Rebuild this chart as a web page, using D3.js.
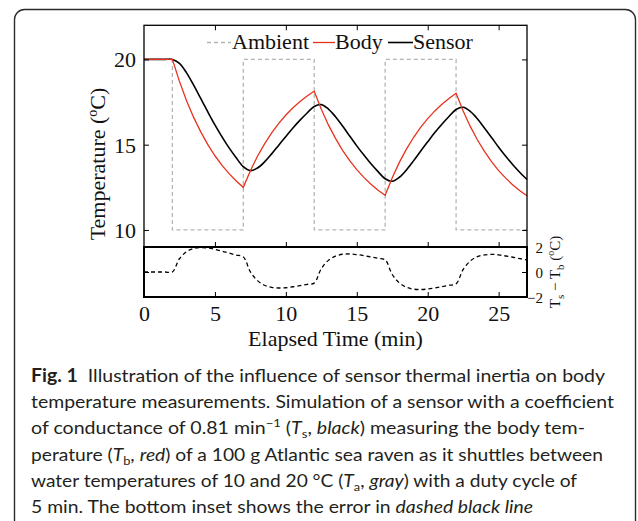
<!DOCTYPE html>
<html>
<head>
<meta charset="utf-8">
<script src="https://cdn.jsdelivr.net/npm/d3@7"></script>
<style>
  html, body { margin: 0; padding: 0; background: #fff; }
  svg { display: block; }
  .serif { font-family: "Liberation Serif", "Times New Roman", serif; fill: #111; }
  .cap { font-family: Lato, "Open Sans", sans-serif; fill: #231f20; white-space: pre; }
</style>
</head>
<body>
<svg id="chart" width="638" height="521"></svg>
<script>
// elapsed time (min), one reading every half minute
const time = d3.range(0, 27.001, 0.5);

// ambient water temperature: switches every 5 min after the start
const ambientTimes = [0, 2, 7, 12, 17, 22, 27];
const ambientTemps = [20, 10, 20, 10, 20, 10, 10];

// body temperature (red)
const body = [20, 20, 20, 20, 20,
  18.71, 17.58, 16.60, 15.75, 15.00, 14.35, 13.79, 13.30, 12.87, 12.50,
  13.47, 14.32, 15.05, 15.69, 16.25, 16.74, 17.16, 17.53, 17.85, 18.13,
  17.08, 16.16, 15.37, 14.67, 14.07, 13.54, 13.08, 12.68, 12.33, 12.03,
  13.06, 13.96, 14.74, 15.42, 16.02, 16.53, 16.98, 17.37, 17.71, 18.01,
  16.98, 16.07, 15.29, 14.61, 14.01, 13.48, 13.04, 12.64, 12.30, 12.00];

// sensor temperature (black)
const sensor = [20, 20, 20, 20, 20,
  19.77, 19.21, 18.49, 17.71, 16.92, 16.16, 15.46, 14.81, 14.23, 13.71,
  13.48, 13.63, 13.99, 14.46, 14.97, 15.48, 15.98, 16.44, 16.86, 17.24,
  17.35, 17.09, 16.64, 16.09, 15.51, 14.93, 14.39, 13.88, 13.42, 13.00,
  12.86, 13.09, 13.52, 14.05, 14.62, 15.17, 15.71, 16.20, 16.65, 17.06,
  17.19, 16.95, 16.52, 15.98, 15.42, 14.85, 14.32, 13.82, 13.37, 12.96];

// sensor minus body (inset, dashed)
const error = [0, 0, 0, 0, 0,
  1.06, 1.63, 1.89, 1.96, 1.92, 1.81, 1.67, 1.51, 1.36, 1.21,
  0.01, -0.69, -1.06, -1.23, -1.28, -1.26, -1.18, -1.09, -0.99, -0.89,
  0.27, 0.93, 1.27, 1.42, 1.44, 1.39, 1.31, 1.20, 1.09, 0.97,
  -0.20, -0.87, -1.22, -1.37, -1.40, -1.36, -1.27, -1.17, -1.06, -0.95,
  0.21, 0.88, 1.23, 1.37, 1.41, 1.37, 1.28, 1.18, 1.07, 0.96];

const xTicks = [0, 5, 10, 15, 20, 25];
const tempTicks = [10, 15, 20];
const errTicks = [-2, 0, 2];

const svg = d3.select("#chart");

// page frame
svg.append("rect")
  .attr("x", 14.5).attr("y", 9.5)
  .attr("width", 621).attr("height", 600)
  .attr("rx", 10)
  .attr("fill", "none")
  .attr("stroke", "#2b2b2b")
  .attr("stroke-width", 1.4);

const left = 144, right = 527;
const mainTop = 25.3, mainBottom = 247;
const insetBottom = 297;

const x = d3.scaleLinear().domain([0, 27]).range([left, right]);
const y = d3.scaleLinear().domain([9, 22]).range([mainBottom, mainTop]);
const yErr = d3.scaleLinear().domain([-2, 2]).range([insetBottom, mainBottom]);

// ---- main panel ----
const ambLine = d3.line()
  .x((d, i) => x(ambientTimes[i]))
  .y(d => y(d))
  .curve(d3.curveStepAfter);

svg.append("path")
  .attr("d", ambLine(ambientTemps))
  .attr("fill", "none")
  .attr("stroke", "#b5b5b5")
  .attr("stroke-width", 1.3)
  .attr("stroke-dasharray", "4,3");

const sensorLine = d3.line()
  .x((d, i) => x(time[i]))
  .y(d => y(d))
  .curve(d3.curveCatmullRom);

svg.append("path")
  .attr("d", sensorLine(sensor))
  .attr("fill", "none")
  .attr("stroke", "#000")
  .attr("stroke-width", 1.6);

const bodyLine = d3.line()
  .x((d, i) => x(time[i]))
  .y(d => y(d));

svg.append("path")
  .attr("d", bodyLine(body))
  .attr("fill", "none")
  .attr("stroke", "#e8321e")
  .attr("stroke-width", 1.3);

// ---- inset ----
const errLine = d3.line()
  .x((d, i) => x(time[i]))
  .y(d => yErr(d))
  .curve(d3.curveCatmullRom);

svg.append("path")
  .attr("d", errLine(error))
  .attr("fill", "none")
  .attr("stroke", "#000")
  .attr("stroke-width", 1.3)
  .attr("stroke-dasharray", "4,3");

// ---- axes ----
function tidy(g) {
  g.select(".domain").remove();
  g.selectAll(".tick line").attr("stroke", "#000").attr("stroke-width", 1);
  g.selectAll("text").attr("class", "serif").attr("fill", "#111");
}

svg.append("g")
  .attr("transform", `translate(${left},0)`)
  .call(d3.axisLeft(y).tickValues(tempTicks).tickSize(-5).tickPadding(8))
  .call(tidy)
  .call(g => g.selectAll("text").attr("font-size", 22).attr("dy", "0.34em"));

svg.append("g")
  .attr("transform", `translate(${right},0)`)
  .call(d3.axisRight(y).tickValues(tempTicks).tickSize(-5).tickFormat(""))
  .call(tidy);

svg.append("g")
  .attr("transform", `translate(0,${mainTop})`)
  .call(d3.axisTop(x).tickValues(xTicks.slice(1)).tickSize(-5).tickFormat(""))
  .call(tidy);

svg.append("g")
  .attr("transform", `translate(0,${mainBottom})`)
  .call(d3.axisBottom(x).tickValues(xTicks.slice(1)).tickSize(-5).tickFormat(""))
  .call(tidy);

svg.append("g")
  .attr("transform", `translate(0,${insetBottom})`)
  .call(d3.axisBottom(x).tickValues(xTicks).tickSize(-5).tickPadding(8))
  .call(tidy)
  .call(g => g.selectAll("text").attr("font-size", 22));

svg.append("g")
  .attr("transform", `translate(${right},0)`)
  .call(d3.axisRight(yErr).tickValues(errTicks).tickSize(-5).tickFormat(d3.format("d")))
  .call(tidy)
  .call(g => g.selectAll("text")
    .attr("font-size", 15)
    .attr("text-anchor", "end")
    .attr("x", 16)
    .attr("dy", "0.34em"));

svg.append("g")
  .attr("transform", `translate(${left},0)`)
  .call(d3.axisLeft(yErr).tickValues(errTicks).tickSize(-5).tickFormat(""))
  .call(tidy);

// frames
svg.append("rect")
  .attr("x", left).attr("y", mainTop)
  .attr("width", right - left).attr("height", mainBottom - mainTop)
  .attr("fill", "none").attr("stroke", "#000").attr("stroke-width", 1.3);

svg.append("rect")
  .attr("x", left).attr("y", mainBottom)
  .attr("width", right - left).attr("height", insetBottom - mainBottom)
  .attr("fill", "none").attr("stroke", "#000").attr("stroke-width", 2);

// ---- axis titles ----
svg.append("text")
  .attr("class", "serif")
  .attr("x", (left + right) / 2).attr("y", 346)
  .attr("text-anchor", "middle")
  .attr("font-size", 22)
  .text("Elapsed Time (min)");

const yTitle = svg.append("text")
  .attr("class", "serif")
  .attr("transform", "translate(105,164) rotate(-90)")
  .attr("text-anchor", "middle")
  .attr("font-size", 22);
yTitle.append("tspan").text("Temperature (");
yTitle.append("tspan").attr("font-size", 14).attr("dy", -8).text("o");
yTitle.append("tspan").attr("dy", 8).text("C)");

const eTitle = svg.append("text")
  .attr("class", "serif")
  .attr("transform", `translate(560,${(mainBottom + insetBottom) / 2}) rotate(-90)`)
  .attr("text-anchor", "middle")
  .attr("font-size", 15);
eTitle.append("tspan").text("T");
eTitle.append("tspan").attr("font-size", 11).attr("dy", 4).text("s");
eTitle.append("tspan").attr("dy", -4).text(" \u2212 T");
eTitle.append("tspan").attr("font-size", 11).attr("dy", 4).text("b");
eTitle.append("tspan").attr("dy", -4).text(" (");
eTitle.append("tspan").attr("font-size", 10).attr("dy", -6).text("o");
eTitle.append("tspan").attr("dy", 6).text("C)");

// ---- legend ----
const legendItems = [
  { label: "Ambient", color: "#b5b5b5", dash: "4,3", x0: 207, x1: 231, tx: 232 },
  { label: "Body", color: "#e8321e", dash: null, x0: 313, x1: 335, tx: 335 },
  { label: "Sensor", color: "#000", dash: null, x0: 388, x1: 413, tx: 413 }
];
const legend = svg.append("g");
legendItems.forEach(d => {
  legend.append("line")
    .attr("x1", d.x0).attr("x2", d.x1)
    .attr("y1", 42.5).attr("y2", 42.5)
    .attr("stroke", d.color)
    .attr("stroke-width", d.label === "Sensor" ? 1.6 : 1.3)
    .attr("stroke-dasharray", d.dash);
  legend.append("text")
    .attr("class", "serif")
    .attr("x", d.tx).attr("y", 49)
    .attr("font-size", 22)
    .text(d.label);
});

// ---- caption ----
const capLines = [
  { w: 574, parts: [["b", "Fig. 1"], ["", "  Illustration of the influence of sensor thermal inertia on body"]] },
  { w: 583, parts: [["", "temperature measurements. Simulation of a sensor with a coefficient"]] },
  { w: 554, parts: [["", "of conductance of 0.81 min"], ["sup", "\u22121"], ["", " ("], ["i", "T"], ["sub", "s"], ["", ", "], ["i", "black"], ["", ") measuring the body tem-"]] },
  { w: 572, parts: [["", "perature ("], ["i", "T"], ["sub", "b"], ["", ", "], ["i", "red"], ["", ") of a 100 g Atlantic sea raven as it shuttles between"]] },
  { w: 546, parts: [["", "water temperatures of 10 and 20 \u00b0C ("], ["i", "T"], ["sub", "a"], ["", ", "], ["i", "gray"], ["", ") with a duty cycle of"]] },
  { w: 502, parts: [["", "5 min. The bottom inset shows the error in "], ["i", "dashed black line"]] }
];

capLines.forEach((line, li) => {
  const t = svg.append("text")
    .attr("class", "cap")
    .attr("x", 31)
    .attr("y", 381.5 + li * 26.35)
    .attr("font-size", 18)
    .attr("textLength", line.w)
    .attr("lengthAdjust", "spacingAndGlyphs");
  let shift = 0;
  line.parts.forEach(([kind, str]) => {
    const s = t.append("tspan").text(str);
    let target = 0;
    if (kind === "b") s.attr("font-weight", "bold");
    if (kind === "i") s.attr("font-style", "italic");
    if (kind === "sub") { s.attr("font-size", 12); target = 4; }
    if (kind === "sup") { s.attr("font-size", 12); target = -7; }
    if (target !== shift) { s.attr("dy", target - shift); shift = target; }
  });
});
</script>
</body>
</html>
